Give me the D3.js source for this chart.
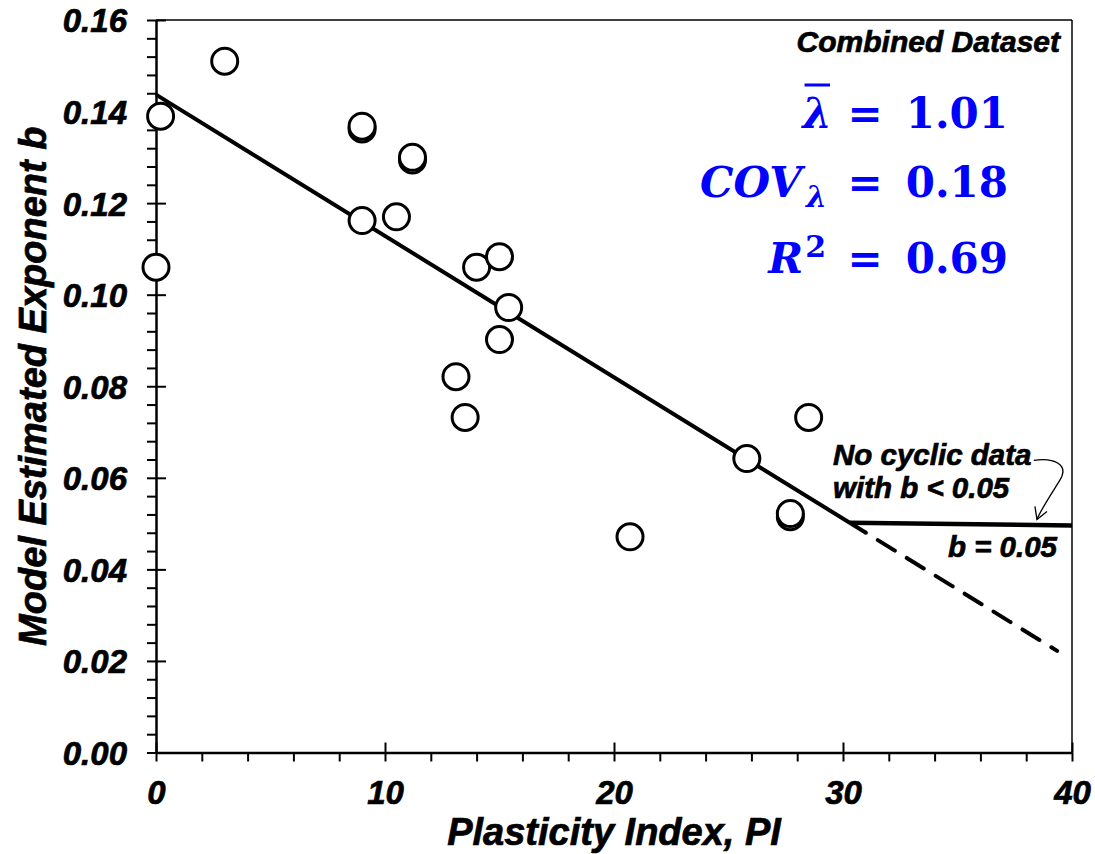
<!DOCTYPE html>
<html>
<head>
<meta charset="utf-8">
<script src="https://cdn.jsdelivr.net/npm/d3@7/dist/d3.min.js"></script>
<style>
  html, body { margin: 0; padding: 0; background: #fff; }
  svg { display: block; }
  text { font-family: "Liberation Sans", Arial, sans-serif; font-weight: bold; font-style: italic; fill: #000; stroke: #000; stroke-width: 0.7px; }
  .math { font-family: "DejaVu Serif", serif; font-weight: bold; font-style: normal; fill: #0000ff; stroke: none; }
</style>
</head>
<body>
<svg id="chart" width="1095" height="854"></svg>
<script>
// ---- data ----
const piValues = [3.0, 0.2, 0.0, 9.0, 9.0, 11.2, 11.2, 9.0, 10.5, 14.0, 15.0, 15.4, 15.0, 13.1, 13.5, 20.7, 25.8, 28.5, 27.7, 27.7];
const bValues  = [0.151, 0.139, 0.106, 0.1362, 0.1368, 0.1294, 0.1300, 0.1162, 0.117, 0.106, 0.1083, 0.0972, 0.0902, 0.0821, 0.0732, 0.0471, 0.0642, 0.0732, 0.0515, 0.0522];
const fitSolid  = [[0, 0.1437], [31.0, 0.0480]];
const fitDashed = [[31.0, 0.0480], [39.35, 0.0222]];
const capLine   = [[30.3, 0.0502], [40, 0.0496]];
const xMajorTicks = [0, 10, 20, 30, 40];
const xMinorTicks = d3.range(0, 40.001, 2);
const yMajorTicks = [0, 0.02, 0.04, 0.06, 0.08, 0.10, 0.12, 0.14, 0.16];
const yMinorTicks = d3.range(0, 0.1601, 0.004);
const xTitle = "Plasticity Index, PI";
const yTitle = "Model Estimated Exponent b";
const datasetLabel = "Combined Dataset";
const statValues = ["1.01", "0.18", "0.69"];
const noteLines = ["No cyclic data", "with b < 0.05"];
const capLabel = "b = 0.05";

// ---- layout ----
const svg = d3.select("#chart");
const L = 156, R = 1072, T = 20, B = 752.5;
const x = d3.scaleLinear().domain([0, 40]).range([L, R]);
const y = d3.scaleLinear().domain([0, 0.16]).range([B, T]);

// frame (top/right thin)
svg.append("line").attr("x1", L).attr("x2", R).attr("y1", T).attr("y2", T).attr("stroke", "#000").attr("stroke-width", 1.5);
svg.append("line").attr("x1", R).attr("x2", R).attr("y1", T).attr("y2", B).attr("stroke", "#000").attr("stroke-width", 1.5);

const isMajorY = v => yMajorTicks.some(m => Math.abs(m - v) < 1e-6);
const isMajorX = v => xMajorTicks.some(m => Math.abs(m - v) < 1e-6);

// y axis: outward ticks + labels
const gy = svg.append("g").attr("transform", `translate(${L},0)`)
  .call(d3.axisLeft(y).tickValues(yMinorTicks).tickSize(9).tickSizeOuter(0).tickPadding(20)
    .tickFormat(d => isMajorY(d) ? d3.format(".2f")(d) : ""));
gy.select(".domain").attr("stroke-width", 2.5);
gy.selectAll(".tick line").attr("stroke-width", 2);
gy.selectAll(".tick text").attr("font-size", 33).attr("font-family", null).attr("fill", "#000").attr("dy", "0.36em");
const gy2 = svg.append("g").attr("transform", `translate(${L},0)`)
  .call(d3.axisLeft(y).tickValues(yMajorTicks).tickSize(-10).tickSizeOuter(0).tickFormat(""));
gy2.select(".domain").remove();
gy2.selectAll(".tick line").attr("stroke-width", 2);

// x axis
const gx = svg.append("g").attr("transform", `translate(0,${B})`)
  .call(d3.axisBottom(x).tickValues(xMinorTicks).tickSize(9).tickSizeOuter(0).tickPadding(19)
    .tickFormat(d => isMajorX(d) ? d3.format("d")(d) : ""));
gx.select(".domain").attr("stroke-width", 2.5);
gx.selectAll(".tick line").attr("stroke-width", 2);
gx.selectAll(".tick text").attr("font-size", 33).attr("font-family", null).attr("fill", "#000");
const gx2 = svg.append("g").attr("transform", `translate(0,${B})`)
  .call(d3.axisBottom(x).tickValues(xMajorTicks).tickSize(-10).tickSizeOuter(0).tickFormat(""));
gx2.select(".domain").remove();
gx2.selectAll(".tick line").attr("stroke-width", 2);

// axis titles
svg.append("text").attr("x", (L + R) / 2).attr("y", 845).attr("text-anchor", "middle").attr("font-size", 38).text(xTitle);
svg.append("text").attr("transform", `translate(46,${(T + B) / 2}) rotate(-90)`).attr("text-anchor", "middle").attr("font-size", 38).text(yTitle);

// lines
const line = d3.line().x(d => x(d[0])).y(d => y(d[1]));
svg.append("path").attr("d", line(fitSolid)).attr("fill", "none").attr("stroke", "#000").attr("stroke-width", 4);
svg.append("path").attr("d", line(fitDashed)).attr("fill", "none").attr("stroke", "#000").attr("stroke-width", 4)
  .attr("stroke-dasharray", "0 14 20 0").attr("stroke-linecap", "round");
svg.append("path").attr("d", line(capLine)).attr("fill", "none").attr("stroke", "#000").attr("stroke-width", 4.5);

// points
const pts = piValues.map((p, i) => ({ pi: p, b: bValues[i] }));
svg.append("g").selectAll("circle").data(pts).join("circle")
  .attr("cx", d => x(d.pi)).attr("cy", d => y(d.b)).attr("r", 13)
  .attr("fill", "#fff").attr("stroke", "#000").attr("stroke-width", 3);

// annotations
svg.append("text").attr("x", 1060).attr("y", 52).attr("text-anchor", "end").attr("font-size", 30).text(datasetLabel);
svg.append("text").attr("x", 833).attr("y", 465).attr("font-size", 29.5).text(noteLines[0]);
svg.append("text").attr("x", 833).attr("y", 498).attr("font-size", 29.5).text(noteLines[1]);
svg.append("text").attr("x", 1057).attr("y", 557).attr("text-anchor", "end").attr("font-size", 29.5).text(capLabel);

// curved arrow
const ax0 = x(38.33), ay0 = y(0.0638);
const tipX = x(38.47), tipY = y(0.0509);
svg.append("path")
  .attr("d", `M${ax0},${ay0} C${ax0 + 20},${ay0 - 3} ${ax0 + 36},${ay0 + 4} ${ax0 + 26},${ay0 + 20} S${tipX + 4},${tipY - 10} ${tipX},${tipY}`)
  .attr("fill", "none").attr("stroke", "#000").attr("stroke-width", 1.3);
svg.append("path")
  .attr("d", `M${tipX - 2},${tipY - 13} L${tipX},${tipY} L${tipX + 10},${tipY - 8}`)
  .attr("fill", "none").attr("stroke", "#000").attr("stroke-width", 1.3);

// statistics (math style)
const mathFs = 42;
const lineY = [128, 197, 273];
statValues.forEach((v, i) => {
  svg.append("text").attr("class", "math").attr("x", 1008).attr("y", lineY[i]).attr("text-anchor", "end").attr("font-size", mathFs).text(v);
  svg.append("text").attr("class", "math").attr("x", 865).attr("y", lineY[i]).attr("text-anchor", "middle").attr("font-size", mathFs).text("=");
});
// line 1: lambda bar
const l1 = svg.append("text").attr("class", "math").attr("x", 832).attr("y", lineY[0]).attr("text-anchor", "end")
  .attr("font-size", mathFs).style("font-style", "italic").text("λ");
const bb = l1.node().getBBox();
svg.append("line").attr("x1", bb.x + 4).attr("x2", bb.x + bb.width - 2).attr("y1", 85).attr("y2", 85)
  .attr("stroke", "#0000ff").attr("stroke-width", 3);
// line 2: COV_lambda
const l2 = svg.append("text").attr("class", "math").attr("x", 827).attr("y", lineY[1]).attr("text-anchor", "end")
  .attr("font-size", mathFs).style("font-style", "italic");
l2.append("tspan").text("COV");
l2.append("tspan").attr("font-size", 30).attr("dx", 4).attr("dy", 10).text("λ");
// line 3: R^2
const l3 = svg.append("text").attr("class", "math").attr("x", 826).attr("y", lineY[2]).attr("text-anchor", "end")
  .attr("font-size", mathFs);
l3.append("tspan").style("font-style", "italic").text("R");
l3.append("tspan").attr("font-size", 30).attr("dx", 2).attr("dy", -16).text("2");
</script>
</body>
</html>
